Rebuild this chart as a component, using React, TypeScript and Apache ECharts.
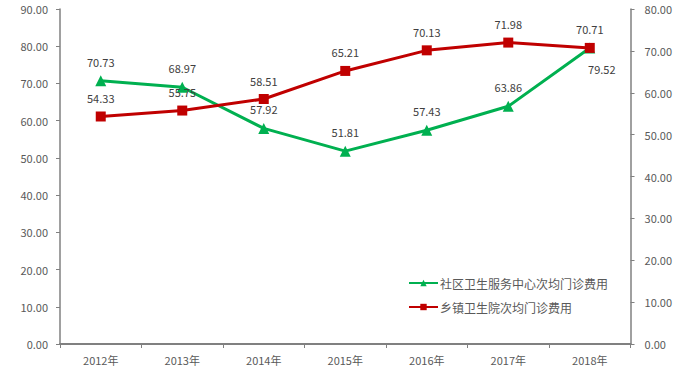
import React, { useEffect, useRef } from "react";
import * as echarts from "echarts";

const categories = ["2012年", "2013年", "2014年", "2015年", "2016年", "2017年", "2018年"];
const communityValues = [70.73, 68.97, 57.92, 51.81, 57.43, 63.86, 79.52];
const townshipValues = [54.33, 55.75, 58.51, 65.21, 70.13, 71.98, 70.71];
const seriesNames = ["社区卫生服务中心次均门诊费用", "乡镇卫生院次均门诊费用"];

const FONT = "'Noto Sans CJK SC', 'Microsoft YaHei', sans-serif";

export default function App() {
  const ref = useRef<HTMLDivElement>(null);
  useEffect(() => {
    if (!ref.current) return;
    const chart = echarts.init(ref.current, undefined, { renderer: "svg" });
    const axisLine = { show: true, lineStyle: { color: "#808080", width: 1.5 } };
    const axisLabel = { color: "#595959", fontSize: 11, fontFamily: FONT, formatter: (v: number) => v.toFixed(2) };
    chart.setOption({
      animation: false,
      backgroundColor: "#fff",
      grid: { left: 60, right: 44, top: 9, bottom: 46, containLabel: false },
      legend: {
        orient: "vertical",
        left: 403,
        top: 272,
        itemWidth: 29,
        itemHeight: 8,
        itemGap: 12,
        textStyle: { color: "#595959", fontSize: 12, fontFamily: FONT, padding: [0, 0, 0, -3] },
        data: seriesNames,
      },
      xAxis: {
        type: "category",
        data: categories,
        boundaryGap: true,
        axisLine: { show: true, lineStyle: { color: "#808080", width: 2 } },
        axisTick: { show: true, alignWithLabel: false, lineStyle: { color: "#808080" }, length: 4 },
        axisLabel: { color: "#595959", fontSize: 11, fontFamily: FONT, margin: 10 },
        splitLine: { show: false },
      },
      yAxis: [
        {
          type: "value",
          min: 0,
          max: 90,
          interval: 10,
          position: "left",
          axisLine,
          axisTick: { show: true, length: 4, lineStyle: { color: "#808080" } },
          axisLabel: { ...axisLabel, margin: 12 },
          splitLine: { show: false },
        },
        {
          type: "value",
          min: 0,
          max: 80,
          interval: 10,
          position: "right",
          axisLine,
          axisTick: { show: true, length: 4, lineStyle: { color: "#808080" } },
          axisLabel: { ...axisLabel, margin: 14 },
          splitLine: { show: false },
        },
      ],
      series: [
        {
          name: seriesNames[0],
          type: "line",
          yAxisIndex: 0,
          data: communityValues.map((v, i) =>
            i === communityValues.length - 1
              ? { value: v, label: { position: "bottom", offset: [12, 2] } }
              : v
          ),
          symbol: "triangle",
          symbolSize: 11,
          lineStyle: { color: "#00B050", width: 3 },
          itemStyle: { color: "#00B050" },
          label: {
            show: true,
            position: "top",
            distance: 8,
            color: "#404040",
            fontSize: 11,
            fontFamily: FONT,
            formatter: (p: any) => Number(p.value).toFixed(2),
          },
          z: 3,
        },
        {
          name: seriesNames[1],
          type: "line",
          yAxisIndex: 1,
          data: townshipValues,
          symbol: "rect",
          symbolSize: 10,
          lineStyle: { color: "#C00000", width: 3 },
          itemStyle: { color: "#C00000" },
          label: {
            show: true,
            position: "top",
            distance: 8,
            color: "#404040",
            fontSize: 11,
            fontFamily: FONT,
            formatter: (p: any) => Number(p.value).toFixed(2),
          },
          z: 4,
        },
      ],
    });
    return () => chart.dispose();
  }, []);
  return <div ref={ref} style={{ width: 675, height: 390, position: "absolute", left: 0, top: 0 }} />;
}
